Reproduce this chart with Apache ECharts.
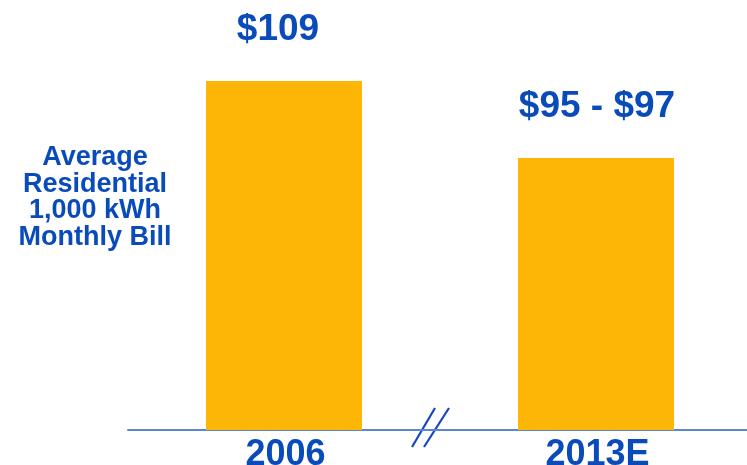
<!DOCTYPE html>
<html>
<head>
<meta charset="utf-8">
<script src="https://cdn.jsdelivr.net/npm/echarts@6/dist/echarts.min.js"></script>
<style>
  html, body { margin: 0; padding: 0; background: #ffffff; }
  #chart { width: 747px; height: 465px; }
</style>
</head>
<body>
<div id="chart"></div>
<script>
// Average residential bill for 1,000 kWh per month
const years = ['2006', '2013E'];
const billValues = [109, 96];            // 2013E drawn at the midpoint of its range
const billLabels = ['$109', '$95 - $97'];
const axisTitle = 'Average\nResidential\n1,000 kWh\nMonthly Bill';

const BLUE = '#0a4bbb';
const GOLD = '#fdb605';
const FONT = '"Liberation Sans", Arial, sans-serif';

// value labels sit a touch left of centre on the first bar
const labelShift = [[-6, 0], [1, 0]];

const chart = echarts.init(document.getElementById('chart'), null, { renderer: 'canvas' });

chart.setOption({
  animation: false,
  backgroundColor: '#ffffff',
  title: {
    text: axisTitle,
    left: 90,
    top: 139,
    textAlign: 'center',
    textStyle: {
      fontFamily: FONT,
      fontSize: 27,
      fontWeight: 'bold',
      lineHeight: 26.7,
      color: BLUE,
      align: 'center'
    }
  },
  grid: { left: 128, right: -5, top: 16, bottom: 35, containLabel: false, outerBoundsMode: 'none' },
  xAxis: {
    type: 'category',
    data: years,
    axisLine: { show: true, lineStyle: { color: '#5b87cf', width: 2 } },
    axisTick: { show: false },
    axisLabel: {
      margin: 7,
      padding: [0, 0, 0, 3],
      fontFamily: FONT,
      fontSize: 36,
      fontWeight: 'bold',
      color: BLUE
    }
  },
  yAxis: {
    type: 'value',
    min: 50,
    max: 120,
    show: false,
    splitLine: { show: false }
  },
  series: [{
    type: 'bar',
    data: billValues.map((v, i) => ({ value: v, label: { offset: labelShift[i] } })),
    barWidth: '50%',
    itemStyle: { color: GOLD },
    label: {
      show: true,
      position: 'top',
      distance: 33,
      fontFamily: FONT,
      fontSize: 37,
      fontWeight: 'bold',
      color: BLUE,
      formatter: (p) => billLabels[p.dataIndex]
    }
  }],
  graphic: [
    // axis break marks between the two periods
    { type: 'line', shape: { x1: 412, y1: 447, x2: 435, y2: 408 }, style: { stroke: '#1546bd', lineWidth: 2.2 } },
    { type: 'line', shape: { x1: 424, y1: 447, x2: 449, y2: 408 }, style: { stroke: '#1546bd', lineWidth: 2.2 } }
  ]
});
</script>
</body>
</html>
